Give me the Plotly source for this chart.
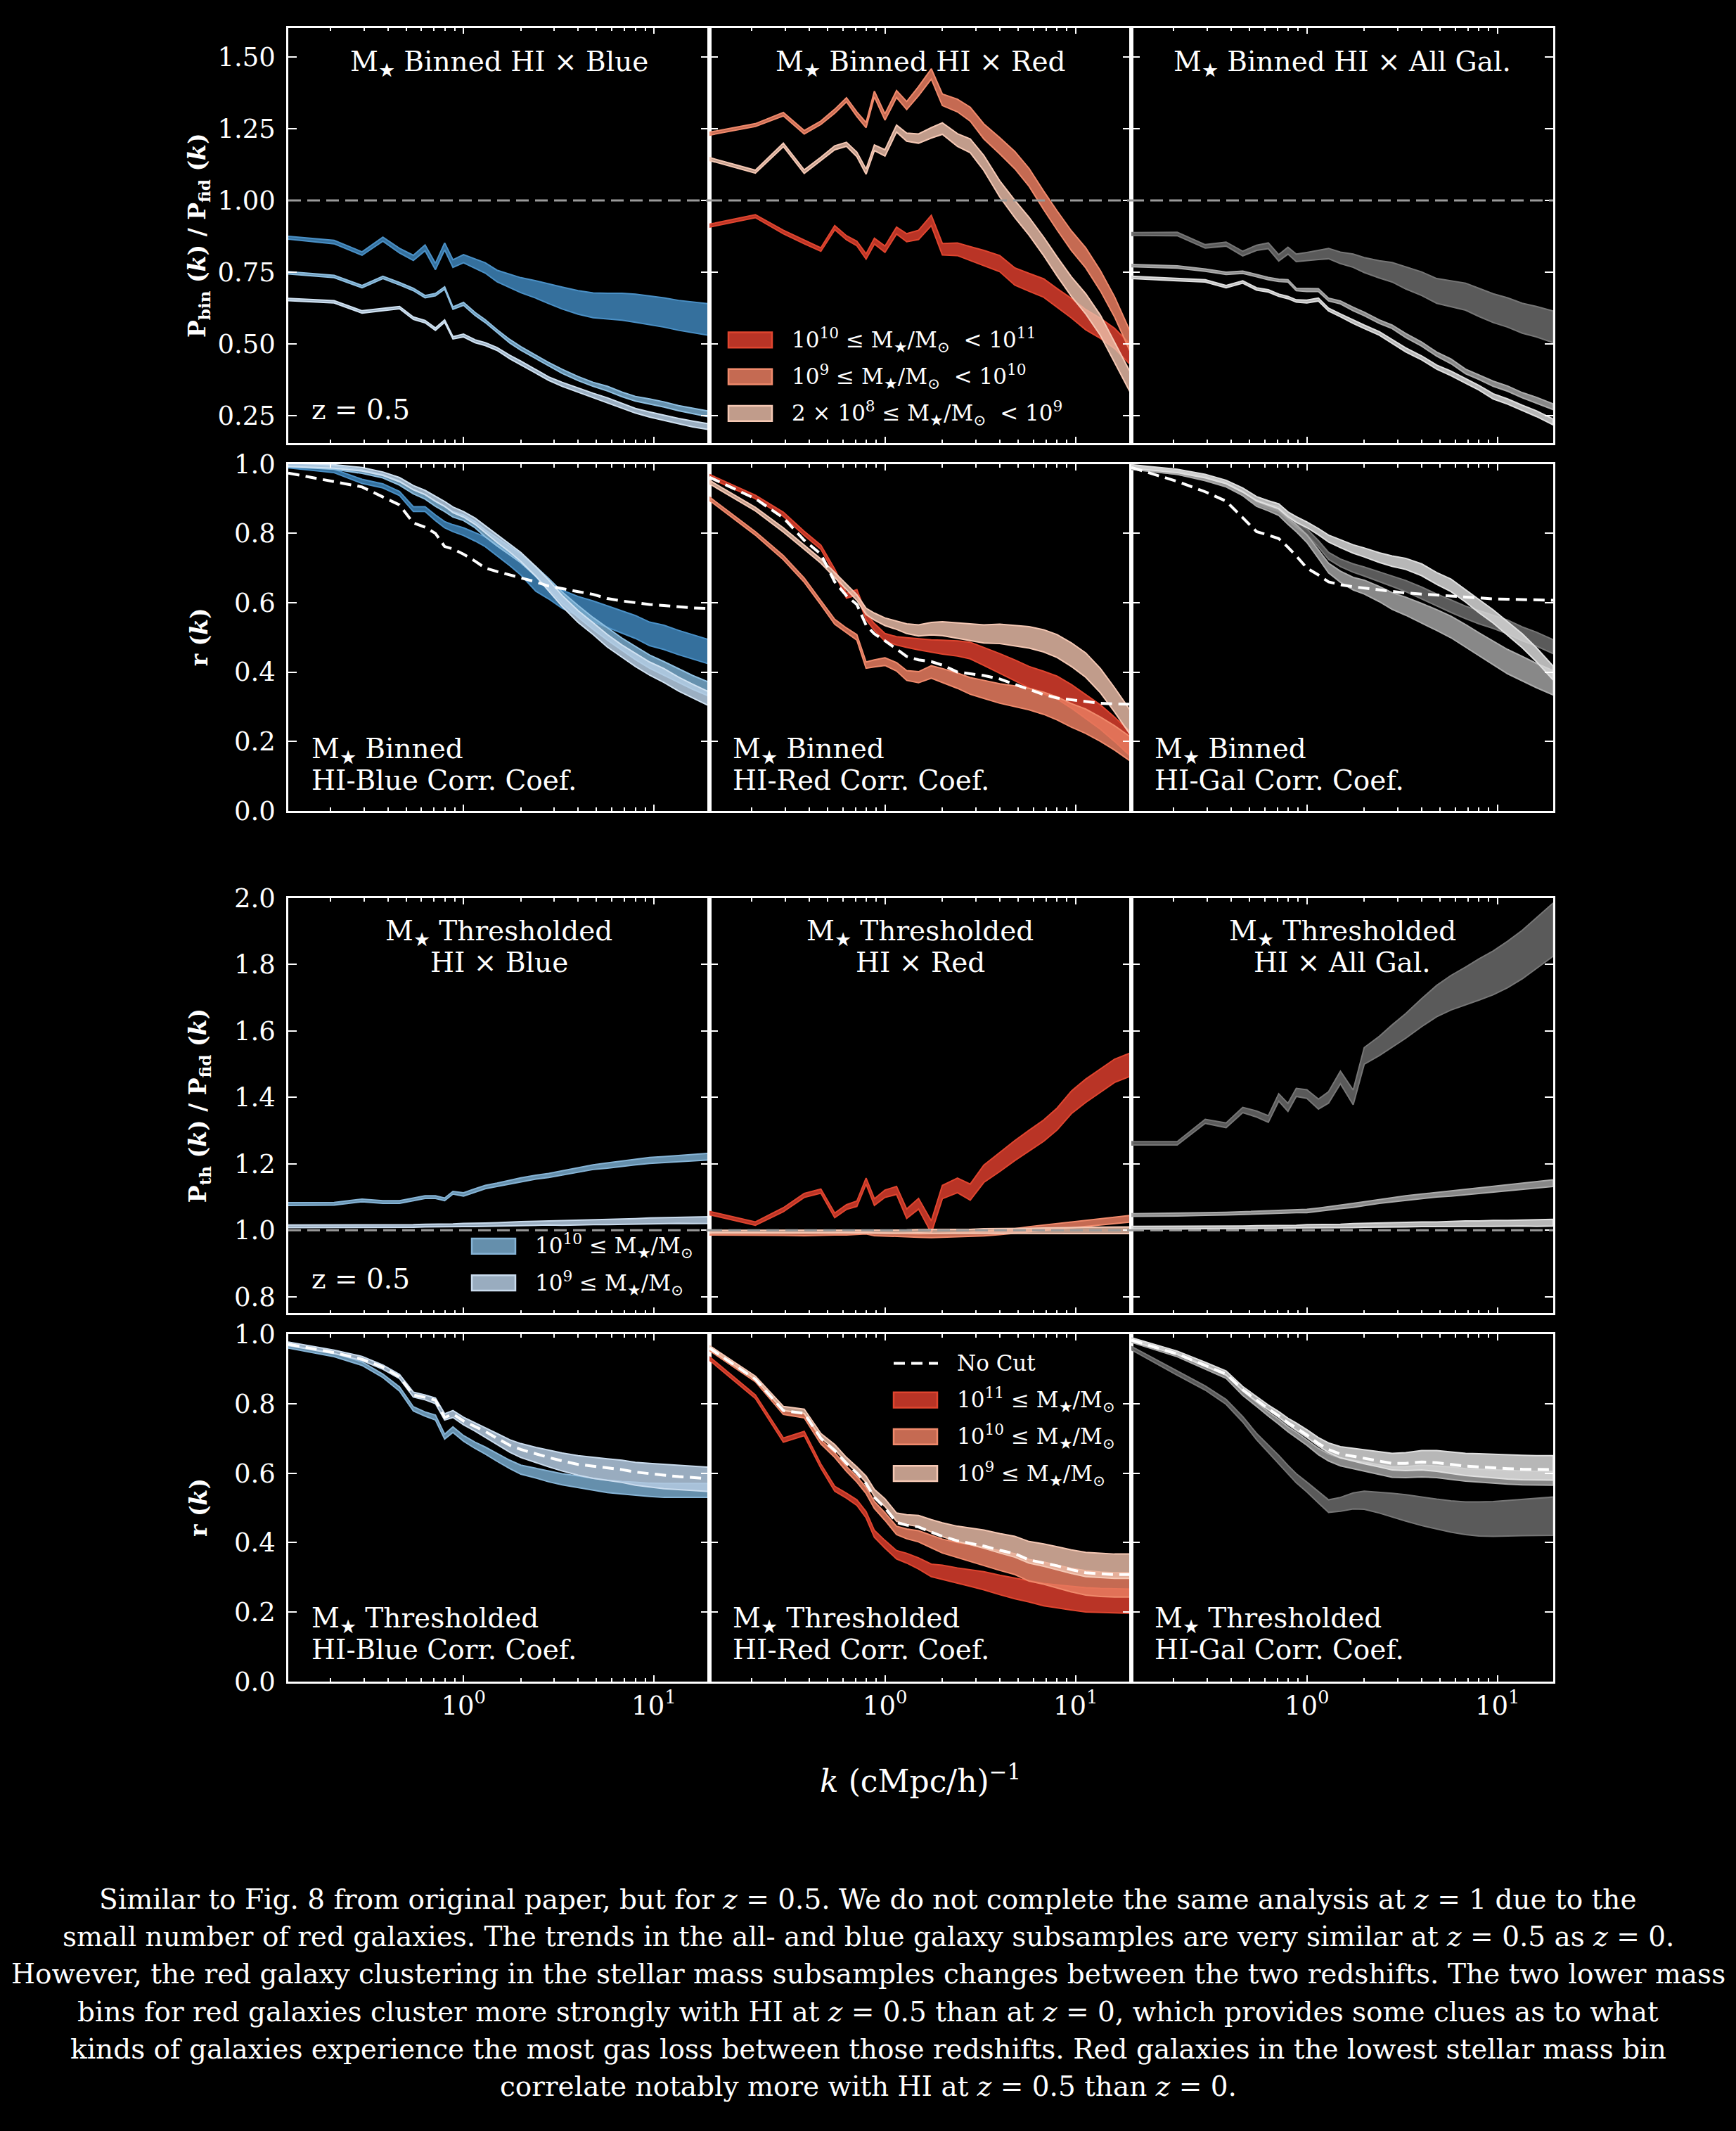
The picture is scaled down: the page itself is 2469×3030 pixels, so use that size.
import numpy as np
import plotly.graph_objects as go

# wavenumber grid (h/cMpc) shared by every curve
K = [0.12, 0.209, 0.293, 0.377, 0.461, 0.545, 0.628, 0.712, 0.796, 0.880,
     1.0, 1.15, 1.3, 1.5, 1.75, 2.0, 2.4, 2.8, 3.3, 4.0,
     4.8, 5.7, 6.8, 8.0, 9.5, 11.3, 13.5, 16.0, 19.6]

# half widths of the shaded error bands
HW_LINE = [0.004, 0.004, 0.004, 0.004, 0.004, 0.004, 0.004, 0.004, 0.004, 0.004,
           0.005, 0.005, 0.005, 0.005, 0.006, 0.006, 0.006, 0.006, 0.007, 0.007,
           0.007, 0.008, 0.008, 0.008, 0.009, 0.009, 0.009, 0.010, 0.010]
HW_SMALL = [0.005, 0.005, 0.005, 0.005, 0.006, 0.006, 0.006, 0.007, 0.007, 0.008,
            0.008, 0.009, 0.010, 0.011, 0.012, 0.013, 0.014, 0.015, 0.016, 0.017,
            0.017, 0.018, 0.018, 0.019, 0.019, 0.020, 0.020, 0.020, 0.020]
HW_MID = [0.005, 0.005, 0.006, 0.006, 0.006, 0.007, 0.007, 0.008, 0.009, 0.010,
          0.011, 0.012, 0.014, 0.016, 0.018, 0.020, 0.022, 0.024, 0.026, 0.028,
          0.030, 0.031, 0.032, 0.033, 0.034, 0.035, 0.035, 0.035, 0.035]
HW_WIDE = [0.005, 0.006, 0.006, 0.007, 0.008, 0.009, 0.010, 0.011, 0.012, 0.013,
           0.014, 0.016, 0.018, 0.020, 0.023, 0.026, 0.030, 0.034, 0.038, 0.041,
           0.043, 0.045, 0.047, 0.049, 0.050, 0.051, 0.052, 0.053, 0.055]
HW_XWIDE = [0.005, 0.005, 0.006, 0.007, 0.008, 0.009, 0.010, 0.011, 0.012, 0.012,
            0.013, 0.015, 0.017, 0.019, 0.022, 0.025, 0.029, 0.033, 0.037, 0.042,
            0.047, 0.052, 0.057, 0.062, 0.066, 0.070, 0.073, 0.076, 0.080]

# row 1: P_bin / P_fid
BIN_BLUE_1 = [0.87, 0.855, 0.815, 0.865, 0.825, 0.80, 0.835, 0.77, 0.84, 0.78,
              0.797, 0.78, 0.765, 0.737, 0.72, 0.705, 0.69, 0.675, 0.66, 0.645,
              0.635, 0.632, 0.63, 0.625, 0.618, 0.61, 0.60, 0.593, 0.585]
BIN_BLUE_2 = [0.748, 0.735, 0.70, 0.732, 0.71, 0.69, 0.665, 0.672, 0.695, 0.625,
              0.64, 0.605, 0.58, 0.545, 0.51, 0.485, 0.455, 0.43, 0.405, 0.38,
              0.36, 0.345, 0.325, 0.31, 0.30, 0.29, 0.277, 0.267, 0.256]
BIN_BLUE_3 = [0.655, 0.647, 0.612, 0.62, 0.627, 0.59, 0.578, 0.552, 0.58, 0.522,
              0.53, 0.51, 0.50, 0.483, 0.455, 0.435, 0.405, 0.38, 0.36, 0.34,
              0.322, 0.305, 0.285, 0.268, 0.255, 0.243, 0.232, 0.222, 0.212]
BIN_RED_1 = [0.912, 0.945, 0.89, 0.855, 0.829, 0.905, 0.87, 0.85, 0.805, 0.858,
             0.83, 0.895, 0.87, 0.88, 0.93, 0.83, 0.83, 0.815, 0.80, 0.78,
             0.735, 0.715, 0.695, 0.66, 0.625, 0.585, 0.555, 0.52, 0.46]
BIN_RED_2 = [1.232, 1.262, 1.30, 1.237, 1.27, 1.31, 1.35, 1.30, 1.262, 1.37,
             1.29, 1.37, 1.33, 1.38, 1.44, 1.35, 1.33, 1.30, 1.24, 1.19,
             1.14, 1.08, 1.0, 0.93, 0.86, 0.80, 0.72, 0.63, 0.50]
BIN_RED_3 = [1.144, 1.10, 1.193, 1.10, 1.144, 1.183, 1.195, 1.16, 1.10, 1.183,
             1.165, 1.25, 1.22, 1.215, 1.235, 1.25, 1.21, 1.19, 1.13, 1.04,
             0.97, 0.91, 0.84, 0.77, 0.70, 0.64, 0.565, 0.47, 0.36]
BIN_GAL_1 = [0.883, 0.883, 0.84, 0.848, 0.815, 0.835, 0.842, 0.80, 0.825, 0.80,
             0.805, 0.81, 0.815, 0.80, 0.79, 0.775, 0.76, 0.75, 0.73, 0.71,
             0.685, 0.675, 0.665, 0.645, 0.625, 0.61, 0.59, 0.578, 0.56]
BIN_GAL_2 = [0.773, 0.768, 0.757, 0.746, 0.75, 0.738, 0.728, 0.722, 0.72, 0.69,
             0.688, 0.688, 0.655, 0.645, 0.622, 0.605, 0.578, 0.56, 0.53, 0.50,
             0.465, 0.44, 0.405, 0.385, 0.362, 0.345, 0.322, 0.305, 0.282]
BIN_GAL_3 = [0.732, 0.724, 0.72, 0.70, 0.716, 0.692, 0.685, 0.67, 0.662, 0.65,
             0.648, 0.655, 0.62, 0.60, 0.578, 0.56, 0.537, 0.51, 0.48, 0.452,
             0.42, 0.398, 0.372, 0.348, 0.318, 0.30, 0.278, 0.258, 0.229]

# row 2: r(k), binned
R_NOCUT_BLUE = [0.974, 0.95, 0.934, 0.905, 0.882, 0.83, 0.818, 0.80, 0.762, 0.755,
                0.74, 0.72, 0.70, 0.69, 0.68, 0.672, 0.66, 0.648, 0.64, 0.632,
                0.624, 0.612, 0.605, 0.60, 0.595, 0.592, 0.588, 0.585, 0.583]
R_BIN_BLUE_1 = [0.994, 0.98, 0.95, 0.937, 0.915, 0.87, 0.87, 0.845, 0.825, 0.815,
                0.805, 0.79, 0.776, 0.752, 0.725, 0.70, 0.655, 0.635, 0.61, 0.59,
                0.575, 0.56, 0.545, 0.53, 0.51, 0.50, 0.485, 0.472, 0.458]
R_BIN_BLUE_2 = [0.997, 0.99, 0.978, 0.965, 0.945, 0.92, 0.905, 0.885, 0.87, 0.855,
                0.845, 0.825, 0.80, 0.775, 0.75, 0.728, 0.69, 0.655, 0.615, 0.575,
                0.54, 0.51, 0.48, 0.455, 0.43, 0.41, 0.39, 0.37, 0.35]
R_BIN_BLUE_3 = [0.998, 0.993, 0.985, 0.972, 0.955, 0.932, 0.918, 0.90, 0.885, 0.868,
                0.855, 0.835, 0.812, 0.785, 0.758, 0.732, 0.69, 0.65, 0.605, 0.56,
                0.525, 0.49, 0.46, 0.435, 0.41, 0.39, 0.365, 0.345, 0.322]
R_NOCUT_RED = [0.962, 0.90, 0.845, 0.78, 0.74, 0.66, 0.62, 0.595, 0.535, 0.51,
               0.49, 0.465, 0.445, 0.435, 0.43, 0.42, 0.40, 0.395, 0.39, 0.38,
               0.365, 0.35, 0.335, 0.325, 0.32, 0.315, 0.31, 0.308, 0.307]
R_BIN_RED_1 = [0.965, 0.905, 0.855, 0.80, 0.76, 0.69, 0.62, 0.63, 0.56, 0.53,
               0.50, 0.49, 0.485, 0.48, 0.475, 0.472, 0.468, 0.462, 0.445, 0.425,
               0.405, 0.385, 0.37, 0.355, 0.33, 0.30, 0.27, 0.235, 0.19]
R_BIN_RED_2 = [0.90, 0.80, 0.73, 0.665, 0.60, 0.545, 0.52, 0.50, 0.42, 0.425,
               0.43, 0.415, 0.39, 0.385, 0.40, 0.39, 0.375, 0.36, 0.35, 0.338,
               0.33, 0.322, 0.31, 0.295, 0.275, 0.258, 0.235, 0.21, 0.176]
R_BIN_RED_3 = [0.948, 0.87, 0.81, 0.76, 0.72, 0.68, 0.645, 0.615, 0.575, 0.56,
               0.545, 0.535, 0.525, 0.52, 0.525, 0.525, 0.52, 0.515, 0.51, 0.51,
               0.505, 0.50, 0.49, 0.475, 0.45, 0.42, 0.375, 0.32, 0.25]
R_NOCUT_GAL = [0.99, 0.95, 0.92, 0.893, 0.845, 0.805, 0.795, 0.785, 0.76, 0.735,
               0.70, 0.68, 0.66, 0.652, 0.646, 0.642, 0.638, 0.633, 0.628, 0.625,
               0.622, 0.618, 0.615, 0.613, 0.611, 0.61, 0.609, 0.608, 0.607]
R_BIN_GAL_1 = [0.99, 0.975, 0.96, 0.942, 0.915, 0.89, 0.878, 0.87, 0.845, 0.825,
               0.805, 0.77, 0.735, 0.715, 0.70, 0.69, 0.675, 0.662, 0.648, 0.628,
               0.608, 0.59, 0.572, 0.558, 0.545, 0.53, 0.51, 0.495, 0.473]
R_BIN_GAL_2 = [0.99, 0.975, 0.958, 0.94, 0.915, 0.885, 0.872, 0.86, 0.835, 0.815,
               0.785, 0.74, 0.70, 0.675, 0.655, 0.645, 0.625, 0.605, 0.59, 0.57,
               0.55, 0.53, 0.505, 0.48, 0.455, 0.43, 0.41, 0.39, 0.369]
R_BIN_GAL_3 = [0.993, 0.98, 0.965, 0.948, 0.925, 0.90, 0.888, 0.878, 0.855, 0.84,
               0.825, 0.805, 0.785, 0.77, 0.755, 0.745, 0.73, 0.72, 0.712, 0.695,
               0.67, 0.65, 0.62, 0.59, 0.56, 0.525, 0.49, 0.45, 0.397]

# row 3: P_th / P_fid
TH_BLUE_1 = [1.079, 1.08, 1.09, 1.085, 1.085, 1.093, 1.10, 1.10, 1.093, 1.113,
             1.108, 1.12, 1.13, 1.137, 1.145, 1.152, 1.16, 1.165, 1.172, 1.182,
             1.19, 1.195, 1.20, 1.205, 1.21, 1.213, 1.216, 1.219, 1.222]
TH_BLUE_2 = [1.012, 1.012, 1.012, 1.013, 1.013, 1.013, 1.014, 1.014, 1.014, 1.015,
             1.016, 1.016, 1.017, 1.018, 1.019, 1.02, 1.021, 1.022, 1.022, 1.023,
             1.024, 1.025, 1.026, 1.027, 1.028, 1.029, 1.03, 1.03, 1.031]
TH_RED_1 = [1.052, 1.02, 1.062, 1.105, 1.118, 1.045, 1.07, 1.08, 1.148, 1.085,
            1.11, 1.12, 1.05, 1.08, 1.01, 1.115, 1.135, 1.115, 1.17, 1.205,
            1.24, 1.27, 1.30, 1.335, 1.385, 1.42, 1.45, 1.48, 1.50]
TH_RED_2 = [0.99, 0.989, 0.989, 0.988, 0.989, 0.99, 0.99, 0.991, 0.993, 0.988,
            0.987, 0.986, 0.985, 0.984, 0.984, 0.985, 0.986, 0.988, 0.99, 0.994,
            0.998, 1.003, 1.008, 1.012, 1.017, 1.021, 1.026, 1.03, 1.035]
TH_RED_3 = [0.996, 0.996, 0.996, 0.996, 0.996, 0.996, 0.996, 0.996, 0.996, 0.996,
            0.996, 0.996, 0.996, 0.997, 0.997, 0.997, 0.997, 0.997, 0.998, 0.998,
            0.998, 0.998, 0.999, 0.999, 0.999, 1.0, 1.0, 1.0, 1.0]
TH_GAL_1 = [1.262, 1.262, 1.328, 1.316, 1.362, 1.35, 1.335, 1.40, 1.37, 1.415,
            1.41, 1.38, 1.40, 1.46, 1.40, 1.525, 1.555, 1.585, 1.615, 1.655,
            1.69, 1.715, 1.735, 1.755, 1.775, 1.80, 1.83, 1.865, 1.905]
TH_GAL_2 = [1.046, 1.047, 1.049, 1.05, 1.052, 1.053, 1.054, 1.055, 1.056, 1.057,
            1.058, 1.062, 1.066, 1.07, 1.075, 1.08, 1.087, 1.092, 1.097, 1.102,
            1.107, 1.111, 1.115, 1.119, 1.123, 1.128, 1.133, 1.137, 1.142]
TH_GAL_3 = [1.008, 1.008, 1.009, 1.009, 1.009, 1.01, 1.01, 1.01, 1.011, 1.011,
            1.012, 1.012, 1.013, 1.013, 1.014, 1.015, 1.015, 1.016, 1.017, 1.018,
            1.018, 1.019, 1.02, 1.02, 1.021, 1.021, 1.022, 1.022, 1.023]

# row 4: r(k), thresholded
R_NOCUT_TH_BLUE = [0.971, 0.947, 0.928, 0.905, 0.877, 0.825, 0.818, 0.81, 0.76, 0.77,
                   0.75, 0.735, 0.72, 0.70, 0.68, 0.668, 0.655, 0.645, 0.635, 0.625,
                   0.62, 0.615, 0.61, 0.603, 0.598, 0.594, 0.59, 0.587, 0.584]
R_TH_BLUE_1 = [0.965, 0.94, 0.915, 0.88, 0.842, 0.785, 0.77, 0.76, 0.705, 0.725,
               0.70, 0.68, 0.665, 0.645, 0.625, 0.61, 0.60, 0.59, 0.582, 0.575,
               0.568, 0.562, 0.558, 0.555, 0.552, 0.55, 0.55, 0.55, 0.55]
R_TH_BLUE_2 = [0.972, 0.949, 0.93, 0.905, 0.878, 0.826, 0.818, 0.808, 0.762, 0.77,
               0.75, 0.733, 0.718, 0.698, 0.678, 0.665, 0.652, 0.642, 0.632, 0.622,
               0.615, 0.61, 0.605, 0.598, 0.594, 0.59, 0.587, 0.585, 0.582]
R_NOCUT_TH_RED = [0.96, 0.87, 0.78, 0.772, 0.70, 0.665, 0.628, 0.60, 0.57, 0.53,
                  0.50, 0.458, 0.45, 0.445, 0.43, 0.418, 0.405, 0.398, 0.39, 0.378,
                  0.368, 0.35, 0.342, 0.333, 0.322, 0.313, 0.31, 0.308, 0.308]
R_TH_RED_1 = [0.93, 0.82, 0.695, 0.714, 0.62, 0.555, 0.535, 0.515, 0.48, 0.425,
              0.395, 0.365, 0.355, 0.34, 0.32, 0.315, 0.305, 0.298, 0.29, 0.278,
              0.268, 0.26, 0.25, 0.245, 0.24, 0.235, 0.233, 0.232, 0.231]
R_TH_RED_2 = [0.958, 0.868, 0.775, 0.765, 0.69, 0.652, 0.612, 0.582, 0.55, 0.508,
              0.475, 0.435, 0.425, 0.418, 0.403, 0.39, 0.378, 0.37, 0.36, 0.348,
              0.338, 0.32, 0.312, 0.302, 0.292, 0.284, 0.28, 0.278, 0.278]
R_TH_RED_3 = [0.962, 0.874, 0.786, 0.778, 0.708, 0.675, 0.638, 0.61, 0.582, 0.543,
              0.515, 0.473, 0.466, 0.462, 0.448, 0.437, 0.425, 0.418, 0.41, 0.398,
              0.388, 0.372, 0.364, 0.355, 0.345, 0.337, 0.334, 0.332, 0.332]
R_NOCUT_TH_GAL = [0.983, 0.943, 0.91, 0.885, 0.84, 0.81, 0.785, 0.765, 0.745, 0.73,
                  0.71, 0.685, 0.668, 0.655, 0.648, 0.642, 0.635, 0.628, 0.628, 0.632,
                  0.63, 0.625, 0.62, 0.618, 0.615, 0.613, 0.611, 0.61, 0.61]
R_TH_GAL_1 = [0.96, 0.888, 0.845, 0.805, 0.755, 0.705, 0.67, 0.64, 0.61, 0.585,
              0.56, 0.53, 0.505, 0.51, 0.52, 0.522, 0.515, 0.508, 0.50, 0.49,
              0.482, 0.475, 0.47, 0.468, 0.468, 0.47, 0.472, 0.474, 0.476]
R_TH_GAL_2 = [0.982, 0.94, 0.905, 0.878, 0.83, 0.798, 0.77, 0.748, 0.726, 0.71,
              0.688, 0.662, 0.645, 0.632, 0.625, 0.618, 0.61, 0.603, 0.603, 0.606,
              0.604, 0.60, 0.595, 0.592, 0.59, 0.588, 0.586, 0.585, 0.585]
R_TH_GAL_3 = [0.985, 0.946, 0.913, 0.888, 0.843, 0.813, 0.789, 0.769, 0.749, 0.734,
              0.714, 0.69, 0.673, 0.66, 0.653, 0.647, 0.64, 0.633, 0.633, 0.637,
              0.635, 0.63, 0.625, 0.623, 0.62, 0.618, 0.616, 0.615, 0.615]

# labels
BIN_LABELS = ["10<sup>10</sup> ≤ M<sub>★</sub>/M<sub>⊙</sub>  &lt; 10<sup>11</sup>",
              "10<sup>9</sup> ≤ M<sub>★</sub>/M<sub>⊙</sub>  &lt; 10<sup>10</sup>",
              "2 × 10<sup>8</sup> ≤ M<sub>★</sub>/M<sub>⊙</sub>  &lt; 10<sup>9</sup>"]
TH_BLUE_LABELS = ["10<sup>10</sup> ≤ M<sub>★</sub>/M<sub>⊙</sub>",
                  "10<sup>9</sup> ≤ M<sub>★</sub>/M<sub>⊙</sub>"]
TH_LABELS = ["No Cut",
             "10<sup>11</sup> ≤ M<sub>★</sub>/M<sub>⊙</sub>",
             "10<sup>10</sup> ≤ M<sub>★</sub>/M<sub>⊙</sub>",
             "10<sup>9</sup> ≤ M<sub>★</sub>/M<sub>⊙</sub>"]
TOP_TITLES = ["M<sub>★</sub> Binned HI × Blue", "M<sub>★</sub> Binned HI × Red",
              "M<sub>★</sub> Binned HI × All Gal."]
TH_TITLES = [["M<sub>★</sub> Thresholded", "HI × Blue"], ["M<sub>★</sub> Thresholded", "HI × Red"],
             ["M<sub>★</sub> Thresholded", "HI × All Gal."]]
R_BIN_NOTES = [["M<sub>★</sub> Binned", "HI-Blue Corr. Coef."], ["M<sub>★</sub> Binned", "HI-Red Corr. Coef."],
               ["M<sub>★</sub> Binned", "HI-Gal Corr. Coef."]]
R_TH_NOTES = [["M<sub>★</sub> Thresholded", "HI-Blue Corr. Coef."],
              ["M<sub>★</sub> Thresholded", "HI-Red Corr. Coef."],
              ["M<sub>★</sub> Thresholded", "HI-Gal Corr. Coef."]]
Y_TITLES = ["<b>P<sub>bin</sub> (<i>k</i>) / P<sub>fid</sub> (<i>k</i>)</b>", "<b>r (<i>k</i>)</b>",
            "<b>P<sub>th</sub> (<i>k</i>) / P<sub>fid</sub> (<i>k</i>)</b>", "<b>r (<i>k</i>)</b>"]
X_TITLE = "<i>k</i> (cMpc/h)<sup>−1</sup>"
X_TICKS = [1, 10]
X_TICK_TEXT = ["10<sup>0</sup>", "10<sup>1</sup>"]
X_MINOR = [0.2, 0.3, 0.4, 0.5, 0.6, 0.7, 0.8, 0.9, 2, 3, 4, 5, 6, 7, 8, 9]
CAPTION = [
    "Similar to Fig. 8 from original paper, but for <i>z</i> = 0.5. We do not complete the same analysis at <i>z</i> = 1 due to the",
    "small number of red galaxies. The trends in the all- and blue galaxy subsamples are very similar at <i>z</i> = 0.5 as <i>z</i> = 0.",
    "However, the red galaxy clustering in the stellar mass subsamples changes between the two redshifts. The two lower mass",
    "bins for red galaxies cluster more strongly with HI at <i>z</i> = 0.5 than at <i>z</i> = 0, which provides some clues as to what",
    "kinds of galaxies experience the most gas loss between those redshifts. Red galaxies in the lowest stellar mass bin",
    "correlate notably more with HI at <i>z</i> = 0.5 than <i>z</i> = 0.",
]

FONT = "DejaVu Serif"
W, H = 2469, 3030
BLUE = [("rgba(58,122,170,0.92)", "#4a90c6"), ("rgba(120,170,205,0.85)", "#8fc0e2"),
        ("rgba(182,206,228,0.85)", "#d0e2f2")]
BLUE_TH = [("rgba(110,155,187,0.92)", "#86b4d6"), ("rgba(180,202,224,0.85)", "#cadcee")]
RED = [("rgba(205,58,42,0.9)", "#e0452f"), ("rgba(232,124,96,0.85)", "#f08a6c"),
       ("rgba(236,190,170,0.82)", "#f5c8b4")]
GRAY = [("rgba(100,100,100,0.9)", "#767676"), ("rgba(160,160,160,0.85)", "#ababab"),
        ("rgba(215,215,215,0.85)", "#e0e0e0")]

X_DOM = [(410 / W, 1009 / W), (1009 / W, 1609 / W), (1609 / W, 2209 / W)]
Y_DOM = [(1 - 618 / H, 1 - 19 / H), (1 - 1148 / H, 1 - 648 / H),
         (1 - 1873 / H, 1 - 1274 / H), (1 - 2404 / H, 1 - 1903 / H)]
Y_RANGE = [[0.155, 1.60], [0, 1], [0.75, 2.0], [0, 1]]
Y_DTICK = [0.25, 0.2, 0.2, 0.2]
Y_TICK0 = [0.25, 0, 0.8, 0]
Y_FMT = [".2f", ".1f", ".1f", ".1f"]

fig = go.Figure()


def ax(i):
    return "" if i == 1 else str(i)


def px(x):
    return x / W


def py(y):
    return 1 - y / H


def band(i, center, hw, style):
    c = np.array(center)
    w = np.array(hw)
    xs = list(K) + list(K[::-1])
    ys = list(c + w) + list((c - w)[::-1])
    fig.add_trace(go.Scatter(
        x=xs, y=ys, xaxis="x" + ax(i), yaxis="y" + ax(i), mode="lines",
        fill="toself", fillcolor=style[0], line=dict(color=style[1], width=2),
        showlegend=False, hoverinfo="skip"))


def nocut(i, vals):
    fig.add_trace(go.Scatter(
        x=K, y=vals, xaxis="x" + ax(i), yaxis="y" + ax(i), mode="lines",
        line=dict(color="white", width=4, dash="16px,9px"), name="No Cut",
        showlegend=False, hoverinfo="skip"))


# row 1
for c, hw, st in zip([BIN_BLUE_1, BIN_BLUE_2, BIN_BLUE_3], [HW_WIDE, HW_LINE, HW_LINE], BLUE):
    band(1, c, hw, st)
for c, hw, st in zip([BIN_RED_1, BIN_RED_2, BIN_RED_3], [HW_MID, HW_MID, HW_MID], RED):
    band(2, c, hw, st)
for c, hw, st in zip([BIN_GAL_1, BIN_GAL_2, BIN_GAL_3], [HW_WIDE, HW_LINE, HW_LINE], GRAY):
    band(3, c, hw, st)

# row 2
for c, hw, st in zip([R_BIN_BLUE_1, R_BIN_BLUE_2, R_BIN_BLUE_3], [HW_MID, HW_SMALL, HW_SMALL], BLUE):
    band(4, c, hw, st)
nocut(4, R_NOCUT_BLUE)
for c, hw, st in zip([R_BIN_RED_1, R_BIN_RED_2, R_BIN_RED_3], [HW_MID, HW_MID, HW_MID], RED):
    band(5, c, hw, st)
nocut(5, R_NOCUT_RED)
for c, hw, st in zip([R_BIN_GAL_1, R_BIN_GAL_2, R_BIN_GAL_3], [HW_SMALL, HW_MID, HW_SMALL], GRAY):
    band(6, c, hw, st)
nocut(6, R_NOCUT_GAL)

# row 3
for c, st in zip([TH_BLUE_1, TH_BLUE_2], BLUE_TH):
    band(7, c, HW_LINE, st)
for c, hw, st in zip([TH_RED_1, TH_RED_2, TH_RED_3], [HW_MID, HW_LINE, HW_LINE], RED):
    band(8, c, hw, st)
for c, hw, st in zip([TH_GAL_1, TH_GAL_2, TH_GAL_3], [HW_XWIDE, HW_LINE, HW_LINE], GRAY):
    band(9, c, hw, st)

# row 4
for c, hw, st in zip([R_TH_BLUE_1, R_TH_BLUE_2], [HW_SMALL, HW_MID], BLUE_TH):
    band(10, c, hw, st)
nocut(10, R_NOCUT_TH_BLUE)
for c, st in zip([R_TH_RED_1, R_TH_RED_2, R_TH_RED_3], RED):
    band(11, c, HW_MID, st)
nocut(11, R_NOCUT_TH_RED)
for c, hw, st in zip([R_TH_GAL_1, R_TH_GAL_2, R_TH_GAL_3], [HW_WIDE, HW_SMALL, HW_MID], GRAY):
    band(12, c, hw, st)
nocut(12, R_NOCUT_TH_GAL)

tick_font = dict(family=FONT, size=37, color="white")
layout = dict(width=W, height=H, margin=dict(l=0, r=0, t=0, b=0),
              paper_bgcolor="black", plot_bgcolor="black", showlegend=False)
shapes = []
for r in range(4):
    for c in range(3):
        i = r * 3 + c + 1
        layout["xaxis" + ax(i)] = dict(
            type="log", range=[np.log10(K[0]), np.log10(K[-1])], domain=X_DOM[c],
            anchor="y" + ax(i), showline=True, linecolor="white", linewidth=2.5,
            mirror="allticks", ticks="inside", ticklen=9, tickwidth=2, tickcolor="white",
            tickmode="array", tickvals=X_TICKS, ticktext=X_TICK_TEXT,
            showticklabels=(r == 3), tickfont=tick_font, showgrid=False, zeroline=False,
            minor=dict(tickmode="array", tickvals=X_MINOR, ticks="inside", ticklen=5,
                       tickwidth=1.5, tickcolor="white", showgrid=False))
        layout["yaxis" + ax(i)] = dict(
            range=Y_RANGE[r], domain=Y_DOM[r], anchor="x" + ax(i), showline=True,
            linecolor="white", linewidth=2.5, mirror="allticks", ticks="inside",
            ticklen=12, tickwidth=2, tickcolor="white", tick0=Y_TICK0[r], dtick=Y_DTICK[r],
            tickformat=Y_FMT[r], showticklabels=(c == 0), tickfont=tick_font,
            ticklabelstandoff=8, showgrid=False, zeroline=False)
        if r in (0, 2):
            shapes.append(dict(type="line", xref="x" + ax(i) + " domain", yref="y" + ax(i),
                               x0=0, x1=1, y0=1, y1=1, layer="above",
                               line=dict(color="#9a9a9a", width=3, dash="18px,9px")))

ann = []
txt = dict(family=FONT, size=39, color="white")
leg_font = dict(family=FONT, size=31, color="white")


def legend_box(left, rows, styles, labels):
    # hand-drawn legend: filled swatch (or dashed line) plus label per row
    for yc, st, lab in zip(rows, styles, labels):
        if st is None:
            shapes.append(dict(type="line", xref="paper", yref="paper",
                               x0=px(left), x1=px(left + 63), y0=py(yc), y1=py(yc),
                               line=dict(color="white", width=4, dash="16px,9px")))
        else:
            shapes.append(dict(type="rect", xref="paper", yref="paper",
                               x0=px(left), x1=px(left + 62), y0=py(yc + 11), y1=py(yc - 11),
                               fillcolor=st[0], line=dict(color=st[1], width=2.5)))
        ann.append(dict(text=lab, x=px(left + 88), y=py(yc), xanchor="left",
                        yanchor="middle", font=leg_font))


legend_box(1036, [469, 522, 575], RED, BIN_LABELS)
legend_box(671, [1776, 1829], BLUE_TH, TH_BLUE_LABELS)
legend_box(1271, [1945, 1998, 2051, 2104], [None] + RED, TH_LABELS)

cx = [(d[0] + d[1]) / 2 for d in X_DOM]
for c in range(3):
    ann.append(dict(text=TOP_TITLES[c], x=cx[c], y=py(70), xanchor="center", yanchor="middle"))
    for n, line in enumerate(TH_TITLES[c]):
        ann.append(dict(text=line, x=cx[c], y=py(1324 + 43 * n), xanchor="center", yanchor="middle"))
    for n, line in enumerate(R_BIN_NOTES[c]):
        ann.append(dict(text=line, x=X_DOM[c][0] + px(31), y=py(1061 + 43 * n),
                        xanchor="left", yanchor="middle"))
    for n, line in enumerate(R_TH_NOTES[c]):
        ann.append(dict(text=line, x=X_DOM[c][0] + px(31), y=py(2315 + 43 * n),
                        xanchor="left", yanchor="middle"))
ann.append(dict(text="z = 0.5", x=X_DOM[0][0] + px(31), y=py(570), xanchor="left", yanchor="middle"))
ann.append(dict(text="z = 0.5", x=X_DOM[0][0] + px(31), y=py(1823), xanchor="left", yanchor="middle"))
for r in range(4):
    ann.append(dict(text=Y_TITLES[r], x=px(283), y=sum(Y_DOM[r]) / 2, textangle=-90,
                    xanchor="center", yanchor="middle", font=dict(family=FONT, size=33, color="white")))
ann.append(dict(text=X_TITLE, x=px(1309), y=py(2545), xanchor="center", yanchor="middle",
                font=dict(family=FONT, size=44, color="white")))
for n, line in enumerate(CAPTION):
    ann.append(dict(text=line, x=0.5, y=py(2718 + 54 * n), xanchor="center", yanchor="middle"))
for a in ann:
    a.setdefault("font", txt)
    a.update(xref="paper", yref="paper", showarrow=False)
layout["annotations"] = ann
layout["shapes"] = shapes

fig.update_layout(**layout)
fig.write_html(
    "out.html", config={"displayModeBar": False},
    post_script="document.body.style.margin='0';document.body.style.background='black';")
